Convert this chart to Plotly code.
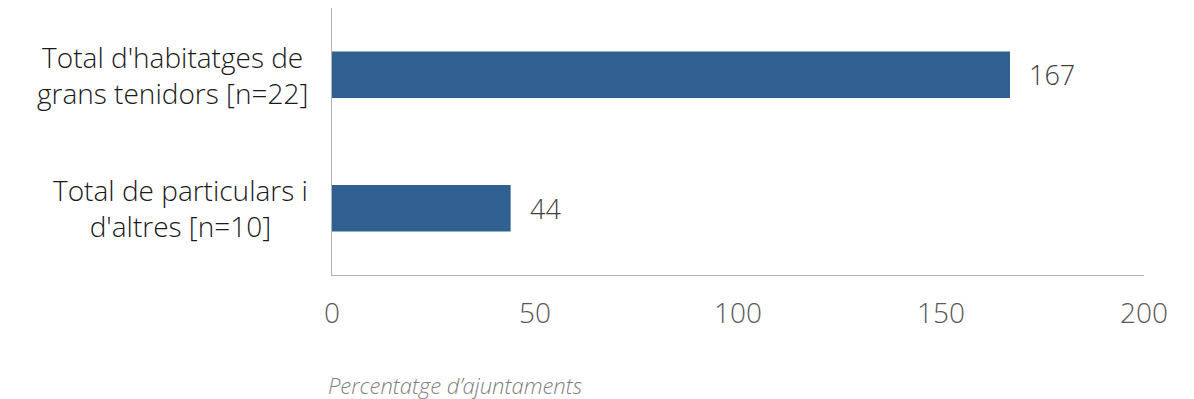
import plotly.graph_objects as go

categories = ["Total d'habitatges de<br>grans tenidors [n=22]", "Total de particulars i<br>d'altres [n=10]"]
values = [167, 44]
x_ticks = [0, 50, 100, 150, 200]
x_title = "Percentatge d’ajuntaments"

FONT = "Open Sans"

fig = go.Figure(go.Bar(
    x=values, y=categories, orientation="h",
    marker=dict(color="#30608F", line=dict(width=0)),
    width=0.35,
    hoverinfo="skip",
))

annotations = []
for c in categories:
    annotations.append(dict(
        x=0, xref="paper", y=c, yref="y", text=c, showarrow=False,
        xanchor="right", xshift=-22, align="center",
        font=dict(family=FONT, size=28, color="#1a1a1a", weight=300),
    ))
for c, v in zip(categories, values):
    annotations.append(dict(
        x=v, xref="x", y=c, yref="y", text=str(v), showarrow=False,
        xanchor="left", xshift=17,
        font=dict(family=FONT, size=27, color="#404040", weight=300),
    ))
annotations.append(dict(
    x=0, xref="paper", y=0, yref="paper", text=x_title, showarrow=False,
    xanchor="left", yanchor="middle", xshift=-6, yshift=-110,
    font=dict(family=FONT, size=22, color="#808080", style="italic", weight=300),
))

fig.update_layout(
    width=1194, height=399,
    margin=dict(l=324, r=58, t=0, b=132),
    paper_bgcolor="white", plot_bgcolor="white",
    showlegend=False,
    annotations=annotations,
    xaxis=dict(range=[0, 200], tickvals=x_ticks, showgrid=False, zeroline=False,
               showline=True, linecolor="#b3b3b3", linewidth=1,
               ticks="", ticklabelstandoff=13,
               tickfont=dict(family=FONT, size=28, color="#595959", weight=300)),
    yaxis=dict(autorange="reversed", showticklabels=False, showgrid=False, zeroline=False,
               showline=True, linecolor="#b3b3b3", linewidth=1, ticks=""),
)

fig.write_html("out.html")
